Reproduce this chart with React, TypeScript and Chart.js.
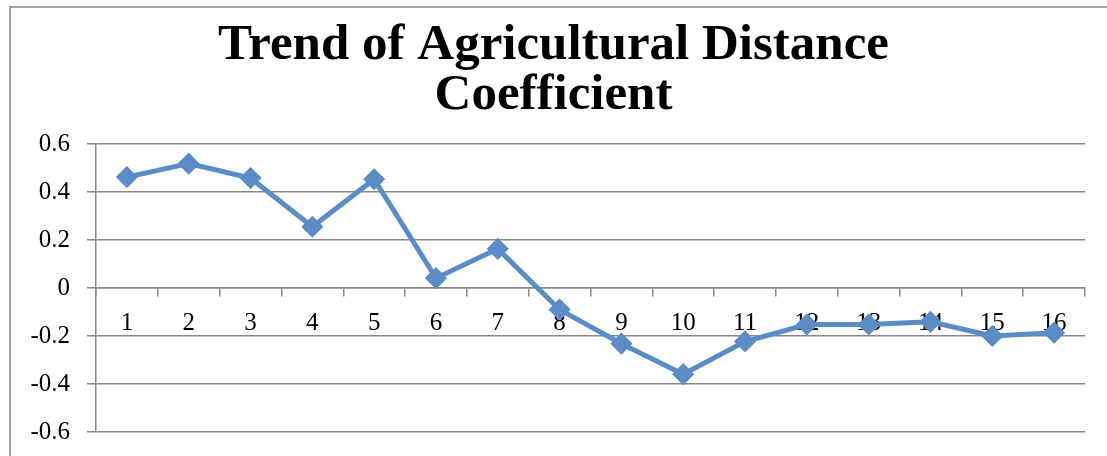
import React, { useEffect, useRef } from "react";
import { Chart, registerables } from "chart.js";

Chart.register(...registerables);

const titleLines = ["Trend of Agricultural Distance", "Coefficient"];
const categories = ["1", "2", "3", "4", "5", "6", "7", "8", "9", "10", "11", "12", "13", "14", "15", "16"];
const coefficientValues = [
  0.462, 0.518, 0.458, 0.255, 0.453, 0.041, 0.163, -0.09,
  -0.232, -0.359, -0.223, -0.152, -0.152, -0.141, -0.2, -0.186,
];
const yTickValues = [-0.6, -0.4, -0.2, 0, 0.2, 0.4, 0.6];

const GRID = "#878787";
const LINE = "#5A8CC7";
const SERIF = "'Liberation Serif', 'DejaVu Serif', serif";

export default function App() {
  const canvasRef = useRef<HTMLCanvasElement | null>(null);

  useEffect(() => {
    const canvas = canvasRef.current;
    if (!canvas) return;
    const chart = new Chart(canvas, {
      type: "line",
      data: {
        labels: categories,
        datasets: [
          {
            label: "Coefficient",
            data: coefficientValues,
            borderColor: LINE,
            backgroundColor: LINE,
            borderWidth: 5,
            pointStyle: "rectRot",
            pointRadius: 10,
            pointBorderWidth: 1.5,
            pointBackgroundColor: LINE,
            pointBorderColor: LINE,
            tension: 0,
          },
        ],
      },
      options: {
        animation: false,
        responsive: true,
        maintainAspectRatio: false,
        layout: { padding: { left: 0, right: 0, top: 0, bottom: 24 } },
        plugins: {
          legend: { display: false },
          tooltip: { enabled: false },
          title: {
            display: true,
            text: titleLines,
            color: "#000",
            font: { family: SERIF, size: 51, weight: "bold", lineHeight: 0.98 },
            padding: { top: 21, bottom: 23 },
          },
        },
        scales: {
          x: {
            type: "category",
            position: { y: 0 } as any,
            offset: true,
            grid: {
              offset: true,
              drawOnChartArea: false,
              drawTicks: true,
              tickLength: 8,
              color: GRID,
              lineWidth: 1.5,
            },
            border: { display: true, color: GRID, width: 1.5 },
            ticks: {
              color: "#000",
              font: { family: SERIF, size: 25 },
              padding: 12,
              maxRotation: 0,
              autoSkip: false,
            },
            afterFit: (scale: any) => {
              scale.height = 0;
              scale.paddingLeft = 0;
              scale.paddingRight = 0;
            },
          },
          y: {
            type: "linear",
            min: -0.6,
            max: 0.6,
            afterBuildTicks: (scale: any) => {
              scale.ticks = yTickValues.map((v) => ({ value: v }));
            },
            afterFit: (scale: any) => {
              scale.width = 96;
              scale.paddingTop = 0;
              scale.paddingBottom = 0;
            },
            grid: {
              color: GRID,
              lineWidth: 1.5,
              drawTicks: true,
              tickLength: 9,
            },
            border: { display: true, color: GRID, width: 1.5 },
            ticks: {
              color: "#000",
              font: { family: SERIF, size: 25 },
              padding: 17,
              callback: (v: any) => String(Number(Number(v).toFixed(1))),
            },
          },
          ySpacer: {
            type: "linear",
            position: "right",
            display: true,
            min: -0.6,
            max: 0.6,
            grid: { display: false, drawOnChartArea: false, drawTicks: false },
            border: { display: false },
            ticks: { display: false },
            afterFit: (scale: any) => {
              scale.width = 22;
              scale.paddingTop = 0;
              scale.paddingBottom = 0;
            },
          },
        },
      },
    });
    return () => chart.destroy();
  }, []);

  return (
    <div
      style={{
        position: "absolute",
        left: 0,
        top: 0,
        width: 1107,
        height: 456,
        overflow: "hidden",
        background: "#fff",
      }}
    >
      <div
        style={{
          position: "absolute",
          left: 9,
          top: 6,
          width: 1300,
          height: 700,
          border: "2px solid #a3a3a3",
          boxSizing: "border-box",
        }}
      />
      <div style={{ position: "absolute", left: 0, top: 0, width: 1107, height: 456 }}>
        <canvas ref={canvasRef} />
      </div>
    </div>
  );
}
